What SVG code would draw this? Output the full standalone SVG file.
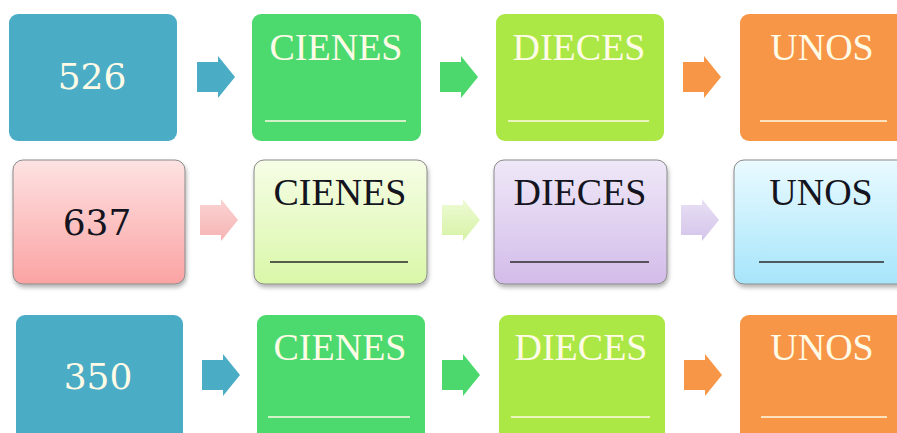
<svg xmlns="http://www.w3.org/2000/svg" width="897" height="433" viewBox="0 0 897 433">
<defs>
<style>
.t{font-family:"Liberation Serif","Times New Roman",serif;font-size:38px;text-anchor:middle}
.n{font-family:"DejaVu Serif","Liberation Serif",serif;font-size:36px;text-anchor:middle}
.lt{fill:#fffbe6}
.dk{fill:#141420}
.ul{stroke:#fffbe6;stroke-width:1.6}
.ud{stroke:#2a2a2a;stroke-width:1.6}
.b2{stroke:#8a8a8a;stroke-width:1}
</style>
<path id="arr" d="M0,-15 H21 V-21 L38,0 L21,21 V15 H0 Z"/>
<linearGradient id="gPink" x1="0" y1="0" x2="0" y2="1"><stop offset="0" stop-color="#fee2e2"/><stop offset="1" stop-color="#fba3a3"/></linearGradient>
<linearGradient id="gYel" x1="0" y1="0" x2="0" y2="1"><stop offset="0" stop-color="#f6fde6"/><stop offset="1" stop-color="#d9f7a8"/></linearGradient>
<linearGradient id="gPur" x1="0" y1="0" x2="0" y2="1"><stop offset="0" stop-color="#efe8f8"/><stop offset="1" stop-color="#d3bce9"/></linearGradient>
<linearGradient id="gCy" x1="0" y1="0" x2="0" y2="1"><stop offset="0" stop-color="#eafaff"/><stop offset="1" stop-color="#a6e5fb"/></linearGradient>
<linearGradient id="aPink" x1="0" y1="0" x2="0" y2="1"><stop offset="0" stop-color="#fbd3d3"/><stop offset="1" stop-color="#f6b3b3"/></linearGradient>
<linearGradient id="aYel" x1="0" y1="0" x2="0" y2="1"><stop offset="0" stop-color="#eefbd6"/><stop offset="1" stop-color="#d6f2a4"/></linearGradient>
<linearGradient id="aPur" x1="0" y1="0" x2="0" y2="1"><stop offset="0" stop-color="#e8e0f4"/><stop offset="1" stop-color="#d3c4ea"/></linearGradient>
<filter id="sh" x="-10%" y="-10%" width="120%" height="130%"><feDropShadow dx="1" dy="3" stdDeviation="2" flood-color="#000" flood-opacity="0.3"/></filter>
</defs>
<rect width="897" height="433" fill="#fff"/>

<g id="connectors">
<use href="#arr" x="197" y="77" fill="#4bacc6"/>
<use href="#arr" x="440" y="77" fill="#4cd86c"/>
<use href="#arr" x="683" y="77" fill="#f79646"/>
<use href="#arr" x="200" y="220" fill="url(#aPink)"/>
<use href="#arr" x="442" y="220" fill="url(#aYel)"/>
<use href="#arr" x="681" y="220" fill="url(#aPur)"/>
<use href="#arr" x="202" y="375" fill="#4bacc6"/>
<use href="#arr" x="442" y="375" fill="#4cd86c"/>
<use href="#arr" x="684" y="375" fill="#f79646"/>
</g>

<g id="n526"><rect x="9" y="14" width="168" height="127" rx="9" fill="#4bacc6"/><text class="n lt" x="92" y="89">526</text></g>
<g id="n1c"><rect x="252" y="14" width="169" height="127" rx="9" fill="#4cd96e"/><text class="t lt" x="336" y="60">CIENES</text><line class="ul" x1="265" y1="121" x2="406" y2="121"/></g>
<g id="n1d"><rect x="496" y="14" width="168" height="127" rx="9" fill="#abe845"/><text class="t lt" x="579" y="60">DIECES</text><line class="ul" x1="508" y1="121" x2="649" y2="121"/></g>
<g id="n1u"><rect x="740" y="14" width="170" height="127" rx="9" fill="#f79646"/><text class="t lt" x="822" y="60">UNOS</text><line class="ul" x1="760" y1="121" x2="887" y2="121"/></g>

<g id="n637"><rect class="b2" x="13" y="160" width="172" height="124" rx="10" fill="url(#gPink)" filter="url(#sh)"/><text class="n dk" x="97" y="235">637</text></g>
<g id="n2c"><rect class="b2" x="254" y="160" width="173" height="124" rx="10" fill="url(#gYel)" filter="url(#sh)"/><text class="t dk" x="340" y="205">CIENES</text><line class="ud" x1="270" y1="262" x2="408" y2="262"/></g>
<g id="n2d"><rect class="b2" x="494" y="160" width="173" height="124" rx="10" fill="url(#gPur)" filter="url(#sh)"/><text class="t dk" x="580" y="205">DIECES</text><line class="ud" x1="510" y1="262" x2="649" y2="262"/></g>
<g id="n2u"><rect class="b2" x="734" y="160" width="173" height="124" rx="10" fill="url(#gCy)" filter="url(#sh)"/><text class="t dk" x="821" y="205">UNOS</text><line class="ud" x1="759" y1="262" x2="884" y2="262"/></g>

<g id="n350"><rect x="16" y="315" width="167" height="130" rx="9" fill="#4bacc6"/><text class="n lt" x="98" y="389">350</text></g>
<g id="n3c"><rect x="257" y="315" width="168" height="130" rx="9" fill="#4cd96e"/><text class="t lt" x="340" y="360">CIENES</text><line class="ul" x1="268" y1="417" x2="410" y2="417"/></g>
<g id="n3d"><rect x="499" y="315" width="166" height="130" rx="9" fill="#abe845"/><text class="t lt" x="581" y="360">DIECES</text><line class="ul" x1="511" y1="417" x2="650" y2="417"/></g>
<g id="n3u"><rect x="740" y="315" width="170" height="130" rx="9" fill="#f79646"/><text class="t lt" x="822" y="360">UNOS</text><line class="ul" x1="761" y1="417" x2="887" y2="417"/></g>
</svg>
